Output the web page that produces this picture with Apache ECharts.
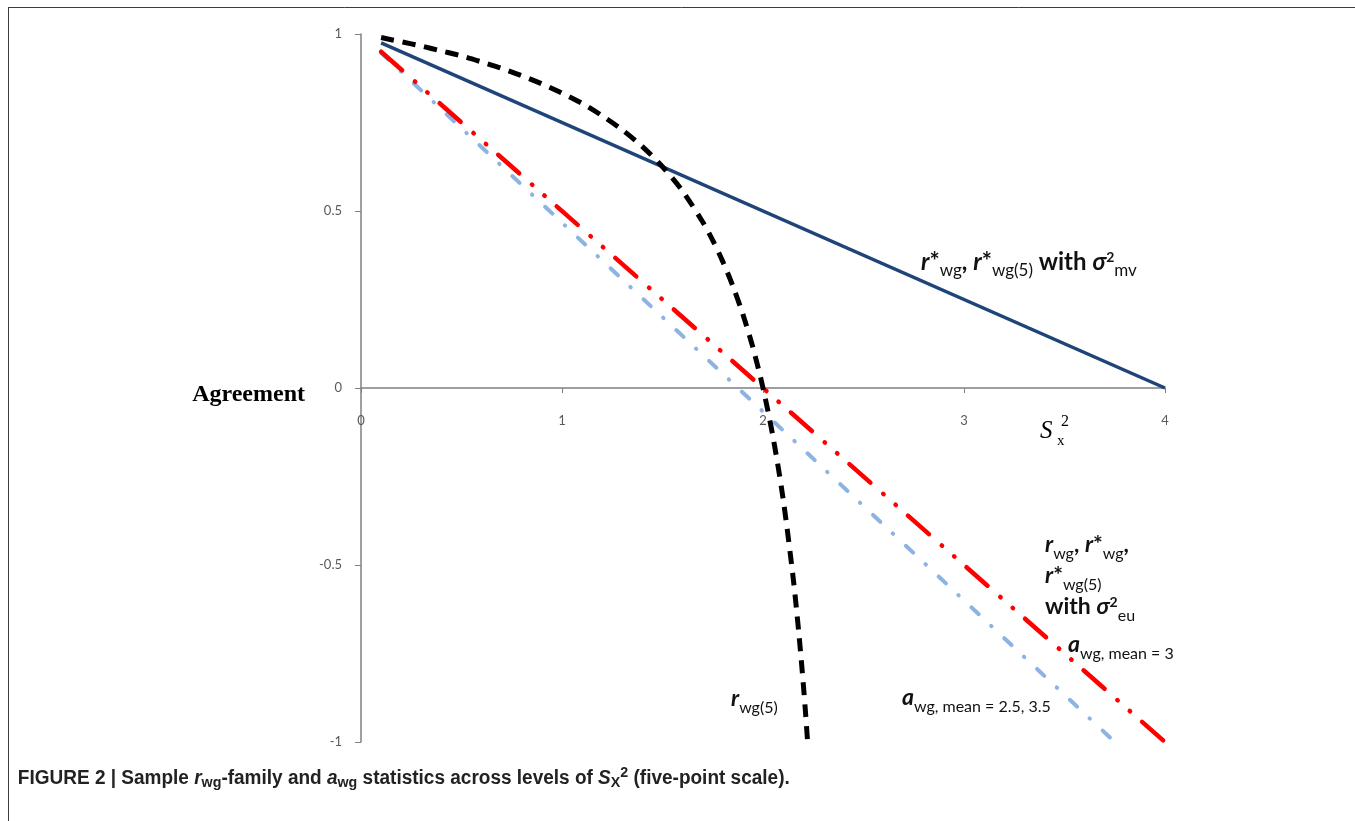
<!DOCTYPE html>
<html><head><meta charset="utf-8">
<script src="https://cdn.jsdelivr.net/npm/echarts@6/dist/echarts.min.js"></script>
<style>html,body{margin:0;padding:0;background:#fff;}#c{width:1355px;height:821px;}</style>
</head><body><div id="c"></div>
<script>
// ---- data ----
const xTickMin = 0, xTickMax = 4, xTickStep = 1;
const yTickMin = -1, yTickMax = 1, yTickStep = 0.5;
// r*wg, r*wg(5) with sigma^2 mv
const mvX = [0.1, 4];
const mvY = [0.975, 0];
// rwg, r*wg, r*wg(5) with sigma^2 eu ; awg mean = 3
const euX = [0.1, 4];
const euY = [0.95, -1];
// awg mean = 2.5, 3.5
const awgX = [0.1, 3.75];
const awgY = [0.947, -1];
// rwg(5)
const rwg5X = [0.1, 0.2, 0.3, 0.4, 0.5, 0.6, 0.7, 0.8, 0.9, 1.0, 1.1, 1.2, 1.3, 1.4, 1.5, 1.6, 1.7, 1.75, 1.8, 1.85, 1.9, 1.95, 2.0, 2.05, 2.1, 2.15, 2.18, 2.2, 2.21, 2.222];
const rwg5Y = [0.990, 0.978, 0.966, 0.952, 0.938, 0.921, 0.903, 0.882, 0.859, 0.833, 0.804, 0.769, 0.729, 0.682, 0.625, 0.556, 0.469, 0.417, 0.357, 0.288, 0.208, 0.114, 0, -0.139, -0.313, -0.536, -0.703, -0.833, -0.905, -1.0];

const zip = (xs, ys) => xs.map((x, i) => [x, ys[i]]);

const chart = echarts.init(document.getElementById('c'), null, {renderer: 'canvas'});

const axisGray = '#808080';
const tickColor = '#595959';
const annFont = 'Lato';
const annColor = '#111';

function annRich(main, sub, sup) {
  return {
    bi: {fontFamily: annFont, fontStyle: 'italic', fontWeight: 'bold', fontSize: main, fill: annColor, color: annColor},
    b: {fontFamily: annFont, fontWeight: 'bold', fontSize: main, fill: annColor, color: annColor},
    sub: {fontFamily: annFont, fontWeight: 'normal', fontSize: sub, fill: annColor, color: annColor, padding: [18, 0, 0, 0]},
    sup: {fontFamily: annFont, fontWeight: 'bold', fontSize: sup, fill: annColor, color: annColor, padding: [0, 0, 9, 0]}
  };
}
const R = annRich(23, 16, 14);
const RN = annRich(24, 17, 14);

function ann(x, y, text, rich) {
  return {type: 'text', x: x, y: y, silent: true, z: 100,
    style: {text: text, rich: rich || R, fill: annColor, verticalAlign: 'middle', align: 'left', font: 'bold 23px Lato'}};
}

const graphics = [
  // frame lines
  {type: 'line', shape: {x1: 8, y1: 7.5, x2: 1355, y2: 7.5}, style: {stroke: '#3c3c3c', lineWidth: 1}, silent: true},
  {type: 'line', shape: {x1: 8.5, y1: 7, x2: 8.5, y2: 821}, style: {stroke: '#3c3c3c', lineWidth: 1}, silent: true},
  // annotations
  ann(921, 262, '{bi|r}{b|*}{sub|wg}{b|, }{bi|r}{b|*}{sub|wg(5)}{b| with }{bi|σ}{sup|2}{sub|mv}', RN),
  ann(1045, 545, '{bi|r}{sub|wg}{b|, }{bi|r}{b|*}{sub|wg}{b|,}'),
  ann(1045, 576, '{bi|r}{b|*}{sub|wg(5)}'),
  ann(1045, 607, '{b|with }{bi|σ}{sup|2}{sub|eu}'),
  ann(1068, 645, '{bi|a}{sub|wg, mean = 3}'),
  ann(731, 699, '{bi|r}{sub|wg(5)}'),
  ann(902, 698, '{bi|a}{sub|wg, mean = 2.5, 3.5}'),
  // S_x^2 axis label
  {type: 'text', x: 1040, y: 431, silent: true, style: {text: 'S', font: 'italic 25px "Liberation Serif"', fill: '#000', verticalAlign: 'middle'}},
  {type: 'text', x: 1057, y: 441, silent: true, style: {text: 'x', font: '15px "Liberation Serif"', fill: '#000', verticalAlign: 'middle'}},
  {type: 'text', x: 1061, y: 422, silent: true, style: {text: '2', font: '16px "Liberation Serif"', fill: '#000', verticalAlign: 'middle'}},
  // caption
  {type: 'text', x: 17, y: 778, originX: 17, originY: 778, scaleX: 0.95, silent: true,
    style: {
      text: '{b|FIGURE 2 | Sample }{bi|r}{sub|wg}{b|-family and }{bi|a}{sub|wg}{b| statistics across levels of }{bi|S}{sub|X}{sup|2}{b| (five-point scale).}',
      verticalAlign: 'middle', align: 'left', fill: '#222',
      rich: {
        b: {fontFamily: 'Liberation Sans', fontWeight: 'bold', fontSize: 20, fill: '#222'},
        bi: {fontFamily: 'Liberation Sans', fontWeight: 'bold', fontStyle: 'italic', fontSize: 20, fill: '#222'},
        sub: {fontFamily: 'Liberation Sans', fontWeight: 'bold', fontSize: 15, fill: '#222', padding: [10, 0, 0, 0]},
        sup: {fontFamily: 'Liberation Sans', fontWeight: 'bold', fontSize: 15, fill: '#222', padding: [0, 0, 10, 0]}
      }
    }}
];

const option = {
  animation: false,
  backgroundColor: '#fff',
  grid: {left: 361, right: 190, top: 34, bottom: 79, containLabel: false},
  xAxis: {
    type: 'value', min: xTickMin, max: xTickMax, interval: xTickStep,
    offset: -354,
    axisLine: {show: true, onZero: false, lineStyle: {color: axisGray, width: 1.5}},
    axisTick: {show: true, length: 5, lineStyle: {color: axisGray}},
    axisLabel: {color: tickColor, fontSize: 13, fontFamily: 'Lato', margin: 26},
    splitLine: {show: false}
  },
  yAxis: {
    type: 'value', min: yTickMin, max: yTickMax, interval: yTickStep,
    axisLine: {show: true, onZero: false, lineStyle: {color: axisGray, width: 1.5}},
    axisTick: {show: true, length: 6, lineStyle: {color: axisGray}},
    axisLabel: {color: tickColor, fontSize: 13, fontFamily: 'Lato', margin: 19},
    splitLine: {show: false},
    name: 'Agreement', nameLocation: 'middle', nameRotate: 0, nameGap: 56,
    nameTextStyle: {fontFamily: 'Liberation Serif', fontWeight: 'bold', fontSize: 24, color: '#000', verticalAlign: 'top', lineHeight: 14}
  },
  series: [
    {type: 'line', name: 'awg 2.5,3.5', data: zip(awgX, awgY), showSymbol: false, symbol: 'none', z: 2,
      lineStyle: {color: '#8DB3E2', width: 4, type: [10, 17, 0.5, 17.5], cap: 'round'}},
    {type: 'line', name: 'rwg eu', data: zip(euX, euY), showSymbol: false, symbol: 'none', z: 3,
      lineStyle: {color: '#FF0000', width: 4.5, type: [28, 17, 0.5, 16, 0.5, 16], cap: 'round'}},
    {type: 'line', name: 'r*wg mv', data: zip(mvX, mvY), showSymbol: false, symbol: 'none', z: 4,
      lineStyle: {color: '#1F4478', width: 3.5, type: 'solid'}},
    {type: 'line', name: 'rwg(5)', data: zip(rwg5X, rwg5Y), showSymbol: false, symbol: 'none', z: 5, smooth: 0.3,
      lineStyle: {color: '#000', width: 5, type: [13, 9], cap: 'butt'}}
  ],
  graphic: graphics
};
chart.setOption(option);
</script>
</body></html>
